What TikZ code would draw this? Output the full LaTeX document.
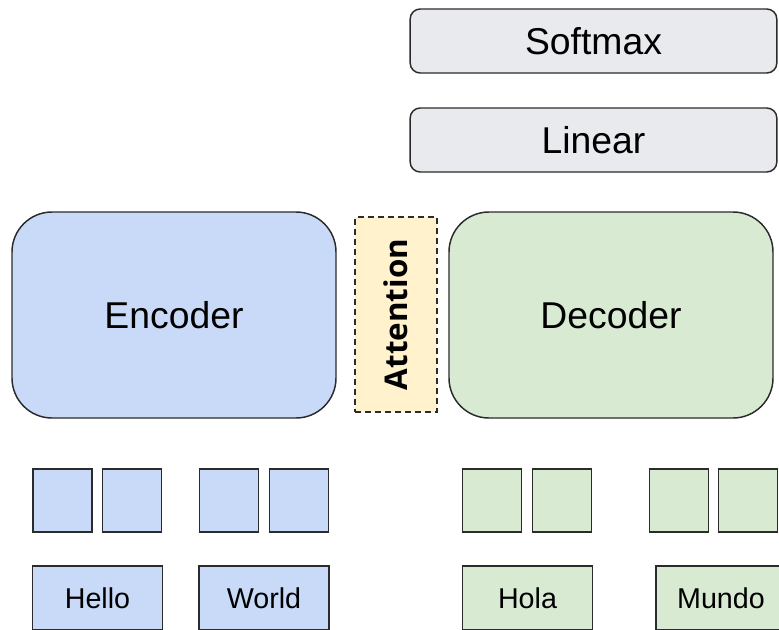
\documentclass[tikz,border=0pt]{standalone}
\usepackage{fontspec}
\setmainfont{Liberation Sans}
\newfontfamily\attnfont{Open Sans}
\usepackage{xcolor}
\usetikzlibrary{positioning, calc}
\definecolor{encblue}{HTML}{C9DAF8}
\definecolor{decgreen}{HTML}{D9EAD3}
\definecolor{headgray}{HTML}{E8EAED}
\definecolor{attnyellow}{HTML}{FFF2CC}
\definecolor{edgedark}{HTML}{2B2B2B}

\begin{document}
\begin{tikzpicture}[
    x=0.75pt, y=-0.75pt,
    head/.style={draw=edgedark, line width=1.1pt, rounded corners=7.5pt, fill=headgray,
        minimum width=275pt, minimum height=48pt, font=\fontsize{28}{33}\selectfont},
    coder/.style={draw=edgedark, line width=1.1pt, rounded corners=30pt,
        minimum width=243pt, minimum height=154.5pt, font=\fontsize{28}{33}\selectfont},
    attn/.style={draw=edgedark, line width=1.1pt, dash pattern=on 4.5pt off 3pt, fill=attnyellow,
        minimum width=61.5pt, minimum height=146pt},
    vec/.style={draw=edgedark, line width=1.1pt, minimum width=44.25pt, minimum height=47.25pt, inner sep=0pt},
    word/.style={draw=edgedark, line width=1.1pt, minimum width=97.5pt, minimum height=48pt,
        font=\fontsize{21.5}{26}\selectfont}
]
\useasboundingbox (0,0) rectangle (779,629);
\clip (0,0) rectangle (779,629);

% output head
\node[head] (softmax) at (593.5,41) {Softmax};
\node[head] (linear) at (593.5,140) {Linear};

% encoder / attention / decoder
\node[coder, fill=encblue] (encoder) at (174,315) {Encoder};
\node[attn] (attention) at (396,314.5) {};
\node[rotate=90, font=\attnfont\bfseries\fontsize{23.5}{28}\selectfont] (attnlabel) at (attention.center) {Attention};
\node[coder, fill=decgreen] (decoder) at (611,315) {Decoder};

% embeddings
\node[vec, fill=encblue] (e1) at (62.5,500.5) {};
\node[vec, fill=encblue] (e2) at (132,500.5) {};
\node[vec, fill=encblue] (e3) at (229,500.5) {};
\node[vec, fill=encblue] (e4) at (299,500.5) {};
\node[vec, fill=decgreen] (d1) at (492,500.5) {};
\node[vec, fill=decgreen] (d2) at (562,500.5) {};
\node[vec, fill=decgreen] (d3) at (679,500.5) {};
\node[vec, fill=decgreen] (d4) at (748,500.5) {};

% tokens
\node[word, fill=encblue] (hello) at (97.5,598) {Hello};
\node[word, fill=encblue] (world) at (264,598) {World};
\node[word, fill=decgreen] (hola) at (527.5,598) {Hola};
\node[word, fill=decgreen] (mundo) at (721,598) {Mundo};
\end{tikzpicture}
\end{document}
